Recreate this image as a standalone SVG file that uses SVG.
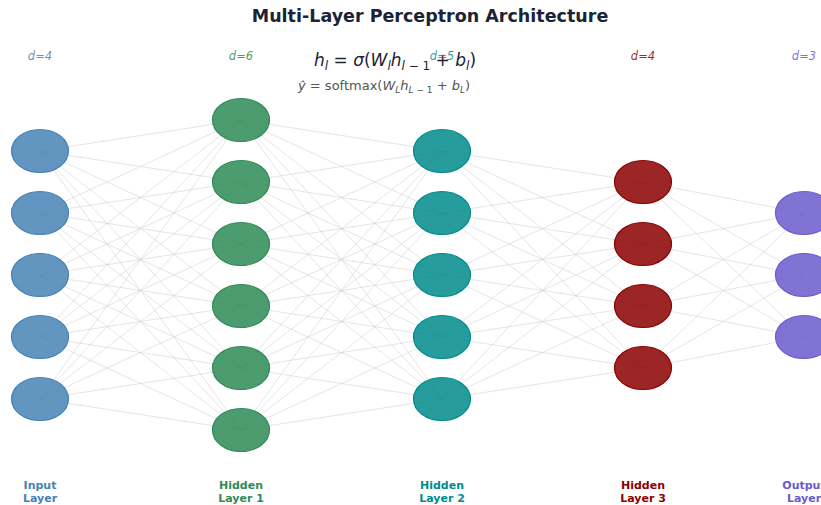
<svg xmlns="http://www.w3.org/2000/svg" width="821" height="505" viewBox="0 0 821 505">
<style>
.title{font-family:"DejaVu Sans",sans-serif;font-weight:bold;font-size:17.5px;fill:#1b2434}
.dim{font-family:"DejaVu Sans",sans-serif;font-style:italic;font-size:11.5px}
.f1{font-family:"DejaVu Sans",sans-serif;font-size:17px;fill:#1b2434}
.f2{font-family:"DejaVu Sans",sans-serif;font-size:13px;fill:#555}
.lab{font-family:"DejaVu Sans",sans-serif;font-weight:bold;font-size:11px;text-anchor:middle}
.i{font-style:italic}
.conn{stroke:#c8c8c8;stroke-width:0.6;fill:none;stroke-opacity:0.8}
.n0{fill:#4682b4;stroke:#4682b4}
.n1{fill:#2e8b57;stroke:#2e8b57}
.n2{fill:#008b8b;stroke:#008b8b}
.n3{fill:#8b0000;stroke:#8b0000}
.n4{fill:#6a5acd;stroke:#6a5acd}
ellipse{fill-opacity:0.85;stroke-width:1.2}
</style>
<rect width="821" height="505" fill="#fff"/>
<g id="connectors">
<path class="conn" d="M40 151L241 120M40 151L241 182M40 151L241 244M40 151L241 306M40 151L241 368M40 151L241 430
M40 213L241 120M40 213L241 182M40 213L241 244M40 213L241 306M40 213L241 368M40 213L241 430
M40 275L241 120M40 275L241 182M40 275L241 244M40 275L241 306M40 275L241 368M40 275L241 430
M40 337L241 120M40 337L241 182M40 337L241 244M40 337L241 306M40 337L241 368M40 337L241 430
M40 399L241 120M40 399L241 182M40 399L241 244M40 399L241 306M40 399L241 368M40 399L241 430"/>
<path class="conn" d="M241 120L442 151M241 120L442 213M241 120L442 275M241 120L442 337M241 120L442 399
M241 182L442 151M241 182L442 213M241 182L442 275M241 182L442 337M241 182L442 399
M241 244L442 151M241 244L442 213M241 244L442 275M241 244L442 337M241 244L442 399
M241 306L442 151M241 306L442 213M241 306L442 275M241 306L442 337M241 306L442 399
M241 368L442 151M241 368L442 213M241 368L442 275M241 368L442 337M241 368L442 399
M241 430L442 151M241 430L442 213M241 430L442 275M241 430L442 337M241 430L442 399"/>
<path class="conn" d="M442 151L643 182M442 151L643 244M442 151L643 306M442 151L643 368
M442 213L643 182M442 213L643 244M442 213L643 306M442 213L643 368
M442 275L643 182M442 275L643 244M442 275L643 306M442 275L643 368
M442 337L643 182M442 337L643 244M442 337L643 306M442 337L643 368
M442 399L643 182M442 399L643 244M442 399L643 306M442 399L643 368"/>
<path class="conn" d="M643 182L804 213M643 182L804 275M643 182L804 337
M643 244L804 213M643 244L804 275M643 244L804 337
M643 306L804 213M643 306L804 275M643 306L804 337
M643 368L804 213M643 368L804 275M643 368L804 337"/>
</g>
<g id="input-layer">
<ellipse class="n0" cx="40" cy="151" rx="28.5" ry="21.5"/>
<ellipse class="n0" cx="40" cy="213" rx="28.5" ry="21.5"/>
<ellipse class="n0" cx="40" cy="275" rx="28.5" ry="21.5"/>
<ellipse class="n0" cx="40" cy="337" rx="28.5" ry="21.5"/>
<ellipse class="n0" cx="40" cy="399" rx="28.5" ry="21.5"/>
</g>
<g id="hidden-layer-1">
<ellipse class="n1" cx="241" cy="120" rx="28.5" ry="21.5"/>
<ellipse class="n1" cx="241" cy="182" rx="28.5" ry="21.5"/>
<ellipse class="n1" cx="241" cy="244" rx="28.5" ry="21.5"/>
<ellipse class="n1" cx="241" cy="306" rx="28.5" ry="21.5"/>
<ellipse class="n1" cx="241" cy="368" rx="28.5" ry="21.5"/>
<ellipse class="n1" cx="241" cy="430" rx="28.5" ry="21.5"/>
</g>
<g id="hidden-layer-2">
<ellipse class="n2" cx="442" cy="151" rx="28.5" ry="21.5"/>
<ellipse class="n2" cx="442" cy="213" rx="28.5" ry="21.5"/>
<ellipse class="n2" cx="442" cy="275" rx="28.5" ry="21.5"/>
<ellipse class="n2" cx="442" cy="337" rx="28.5" ry="21.5"/>
<ellipse class="n2" cx="442" cy="399" rx="28.5" ry="21.5"/>
</g>
<g id="hidden-layer-3">
<ellipse class="n3" cx="643" cy="182" rx="28.5" ry="21.5"/>
<ellipse class="n3" cx="643" cy="244" rx="28.5" ry="21.5"/>
<ellipse class="n3" cx="643" cy="306" rx="28.5" ry="21.5"/>
<ellipse class="n3" cx="643" cy="368" rx="28.5" ry="21.5"/>
</g>
<g id="output-layer">
<ellipse class="n4" cx="804" cy="213" rx="28.5" ry="21.5"/>
<ellipse class="n4" cx="804" cy="275" rx="28.5" ry="21.5"/>
<ellipse class="n4" cx="804" cy="337" rx="28.5" ry="21.5"/>
</g>
<text class="title" x="430" y="22" text-anchor="middle">Multi-Layer Perceptron Architecture</text>
<text class="f1" x="314" y="66"><tspan class="i">h</tspan><tspan class="i" dy="4" font-size="12">l</tspan><tspan dy="-4"> = </tspan><tspan class="i">σ</tspan>(<tspan class="i">W</tspan><tspan class="i" dy="4" font-size="12">l</tspan><tspan class="i" dy="-4">h</tspan><tspan dy="4" font-size="12"><tspan class="i">l</tspan> − 1</tspan><tspan dy="-4"> + </tspan><tspan class="i">b</tspan><tspan class="i" dy="4" font-size="12">l</tspan><tspan dy="-4">)</tspan></text>
<text class="f2" x="298" y="90"><tspan class="i">ŷ</tspan> = softmax(<tspan class="i">W</tspan><tspan class="i" dy="3" font-size="9">L</tspan><tspan class="i" dy="-3">h</tspan><tspan dy="3" font-size="9"><tspan class="i">L</tspan> − 1</tspan><tspan dy="-3"> + </tspan><tspan class="i">b</tspan><tspan class="i" dy="3" font-size="9">L</tspan><tspan dy="-3">)</tspan></text>
<g id="dims" text-anchor="middle">
<text class="dim" x="40" y="60" fill="#4682b4" fill-opacity="0.85">d=4</text>
<text class="dim" x="241" y="60" fill="#2e8b57" fill-opacity="0.85">d=6</text>
<text class="dim" x="442" y="60" fill="#008b8b" fill-opacity="0.85">d=5</text>
<text class="dim" x="643" y="60" fill="#8b0000" fill-opacity="0.85">d=4</text>
<text class="dim" x="804" y="60" fill="#6a5acd" fill-opacity="0.85">d=3</text>
</g>
<g id="labels">
<text class="lab" x="40" y="489" fill="#4682b4">Input<tspan x="40" dy="13">Layer</tspan></text>
<text class="lab" x="241" y="489" fill="#2e8b57">Hidden<tspan x="241" dy="13">Layer 1</tspan></text>
<text class="lab" x="442" y="489" fill="#008b8b">Hidden<tspan x="442" dy="13">Layer 2</tspan></text>
<text class="lab" x="643" y="489" fill="#8b0000">Hidden<tspan x="643" dy="13">Layer 3</tspan></text>
<text class="lab" x="804" y="489" fill="#6a5acd">Output<tspan x="804" dy="13">Layer</tspan></text>
</g>
</svg>
